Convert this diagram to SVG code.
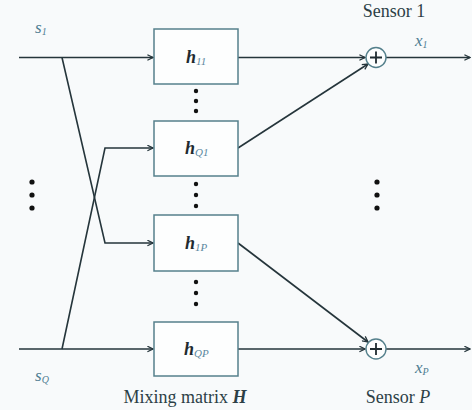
<svg xmlns="http://www.w3.org/2000/svg" width="472" height="410" viewBox="0 0 472 410">
<style>
.ln{stroke:#25353b;stroke-width:1.6;fill:none}
.box{fill:#fdfefe;stroke:#55808c;stroke-width:1.5}
.sum{fill:#fdfefe;stroke:#55808c;stroke-width:1.4}
.t{font-family:'Liberation Serif','Times New Roman','DejaVu Serif',serif;fill:#2c3f46}
.lbl{font-family:'Liberation Serif','Times New Roman','DejaVu Serif',serif;font-style:italic;fill:#4f7d92}
.h{font-family:'Liberation Serif','Times New Roman','DejaVu Serif',serif;font-style:italic;font-weight:bold;fill:#1f2b30;font-size:18px}
.sub{font-size:11px;font-weight:normal;fill:#5b88a0}
.dot{fill:#111}
</style>
<defs>
<marker id="ah" viewBox="0 0 10 10" refX="9" refY="5" markerWidth="7" markerHeight="7" markerUnits="userSpaceOnUse" orient="auto">
<path d="M1,1 L9,5 L1,9" fill="none" stroke="#25353b" stroke-width="1.8"/>
</marker>
</defs>
<rect width="472" height="410" fill="#f8fafb"/>
<g id="connectors">
<path class="ln" d="M19,57.5 H153" marker-end="url(#ah)"/>
<path class="ln" d="M62,57.5 L105,243 H153" marker-end="url(#ah)"/>
<path class="ln" d="M19,349 H153" marker-end="url(#ah)"/>
<path class="ln" d="M62,349 L105,148 H153" marker-end="url(#ah)"/>
<path class="ln" d="M238,57.5 H365" marker-end="url(#ah)"/>
<path class="ln" d="M238,148 L368,64" marker-end="url(#ah)"/>
<path class="ln" d="M238,243 L368,342" marker-end="url(#ah)"/>
<path class="ln" d="M238,349 H365" marker-end="url(#ah)"/>
<path class="ln" d="M386,57.5 H470" marker-end="url(#ah)"/>
<path class="ln" d="M386,349 H470" marker-end="url(#ah)"/>
</g>
<g id="h11"><rect class="box" x="154" y="29" width="84" height="55"/><text class="h" x="186" y="63">h<tspan class="sub" dy="2">11</tspan></text></g>
<g id="hQ1"><rect class="box" x="154" y="121" width="84" height="55"/><text class="h" x="185" y="154">h<tspan class="sub" dy="2">Q1</tspan></text></g>
<g id="h1P"><rect class="box" x="154" y="215" width="84" height="56"/><text class="h" x="185" y="249">h<tspan class="sub" dy="2">1P</tspan></text></g>
<g id="hQP"><rect class="box" x="154" y="322" width="84" height="54"/><text class="h" x="184" y="355">h<tspan class="sub" dy="2">QP</tspan></text></g>
<g id="sum1"><circle class="sum" cx="376" cy="57.5" r="10"/><path d="M376,51.5 V63.5 M370,57.5 H382" stroke="#1f2b30" stroke-width="1.8"/></g>
<g id="sumP"><circle class="sum" cx="376" cy="349" r="10"/><path d="M376,343 V355 M370,349 H382" stroke="#1f2b30" stroke-width="1.8"/></g>
<g id="dots">
<circle class="dot" cx="196" cy="91" r="2.2"/><circle class="dot" cx="196" cy="101" r="2.2"/><circle class="dot" cx="196" cy="111" r="2.2"/>
<circle class="dot" cx="196" cy="184" r="2.2"/><circle class="dot" cx="196" cy="195" r="2.2"/><circle class="dot" cx="196" cy="206" r="2.2"/>
<circle class="dot" cx="196" cy="282" r="2.2"/><circle class="dot" cx="196" cy="293" r="2.2"/><circle class="dot" cx="196" cy="304" r="2.2"/>
<circle class="dot" cx="32" cy="182" r="2.6"/><circle class="dot" cx="32" cy="195" r="2.6"/><circle class="dot" cx="32" cy="208" r="2.6"/>
<circle class="dot" cx="377" cy="182" r="2.6"/><circle class="dot" cx="377" cy="195" r="2.6"/><circle class="dot" cx="377" cy="208" r="2.6"/>
</g>
<g id="labels">
<text class="lbl" x="35" y="33" font-size="17">s<tspan font-size="10" dy="2">1</tspan></text>
<text class="lbl" x="35" y="381" font-size="17">s<tspan font-size="10" dy="2">Q</tspan></text>
<text class="lbl" x="415" y="46" font-size="17">x<tspan font-size="10" dy="2">1</tspan></text>
<text class="lbl" x="415" y="373" font-size="17">x<tspan font-size="10" dy="2">P</tspan></text>
<text class="t" x="394" y="17" font-size="18" text-anchor="middle">Sensor 1</text>
<text class="t" x="398" y="403" font-size="18" text-anchor="middle">Sensor <tspan font-style="italic">P</tspan></text>
<text class="t" x="185" y="403" font-size="18" text-anchor="middle">Mixing matrix <tspan font-style="italic" font-weight="bold">H</tspan></text>
</g>
</svg>
